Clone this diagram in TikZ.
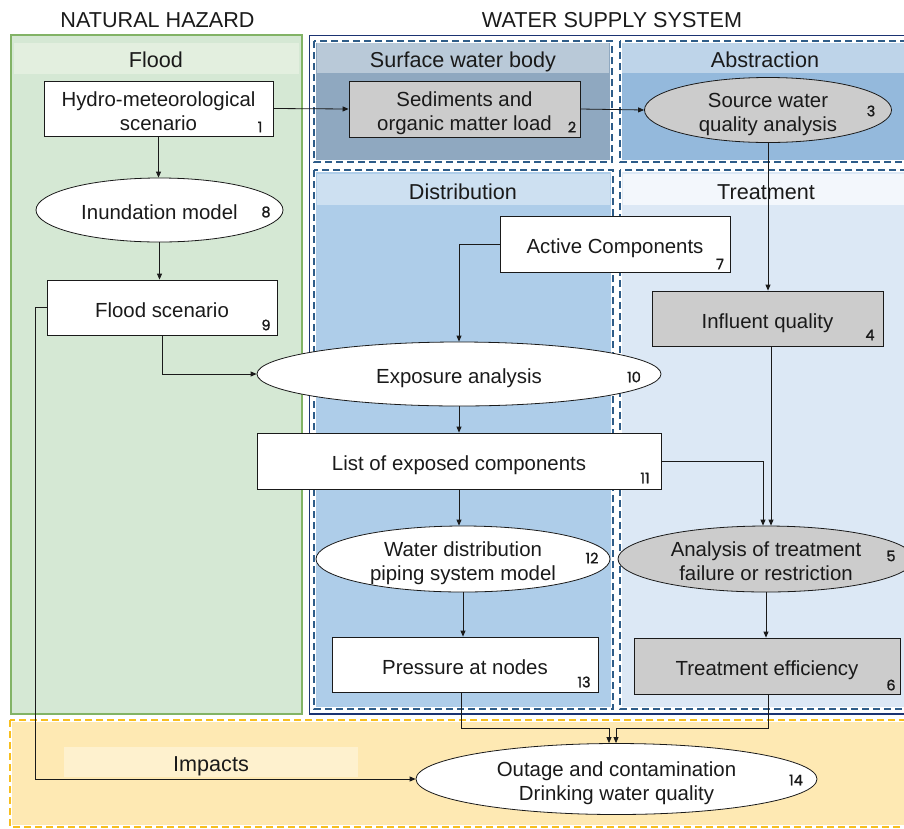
\documentclass[tikz,border=0pt]{standalone}
\usepackage{fontspec}
\setmainfont{Liberation Sans}
\newfontfamily\numfont{Poppins}[FakeBold=1.2]
\usetikzlibrary{shapes.geometric,arrows.meta}
\newcommand\txtsize{\fontsize{20.4}{24}\selectfont}
\newcommand\ttlsize{\fontsize{21.6}{25}\selectfont}
\definecolor{grnfill}{HTML}{D5E8D4}
\definecolor{grnline}{HTML}{82B366}
\definecolor{grnband}{HTML}{E3EFDF}
\definecolor{navy}{HTML}{1B3372}
\definecolor{dashblue}{HTML}{2E5C88}
\definecolor{surffill}{HTML}{8FA8C0}
\definecolor{surfband}{HTML}{B9C9D8}
\definecolor{absfill}{HTML}{94B9DC}
\definecolor{absband}{HTML}{BED4E9}
\definecolor{distfill}{HTML}{AECDE9}
\definecolor{distband}{HTML}{CDE0F1}
\definecolor{trtfill}{HTML}{DCE8F5}
\definecolor{trtband}{HTML}{F3F7FC}
\definecolor{impfill}{HTML}{FEE9B3}
\definecolor{impline}{HTML}{F7BE1E}
\definecolor{impband}{HTML}{FEF1CE}
\definecolor{nodegray}{HTML}{CCCCCC}
\definecolor{ink}{HTML}{1A1A1A}
\tikzset{
  rectbox/.style={draw=ink, line width=0.8pt, fill=white, inner sep=0pt, align=center, font=\txtsize, text=ink, text height=19.5pt, text depth=0pt},
  ellbox/.style={ellipse, draw=ink, line width=0.8pt, fill=white, inner sep=0pt, align=center, font=\txtsize, text=ink, text height=19.5pt, text depth=0pt},
  twoline/.style={text height=43.5pt, text depth=0pt},
  graybox/.style={fill=nodegray},
  num/.style={font=\numfont\fontsize{14.5}{14.5}\selectfont, inner sep=0pt, text=ink},
  ttl/.style={font=\ttlsize, text=ink, inner sep=0pt, anchor=base},
  conn/.style={draw=ink, line width=0.8pt, -{Triangle[length=6pt,width=5pt]}},
  halo/.style={draw=white, line width=3.5pt},
  bluedash/.style={draw=dashblue, line width=1.5pt, dash pattern=on 7pt off 4pt},
  yeldash/.style={draw=impline, line width=1.5pt, dash pattern=on 7pt off 4pt},
}
\begin{document}
\begin{tikzpicture}[x=1pt,y=-1pt]
\useasboundingbox (0,0) rectangle (904,828);
\clip (0,0) rectangle (904,828);
\fill[white] (0,0) rectangle (904,828);

% headers
\node[ttl] (hzd) at (157.5,27) {NATURAL HAZARD};
\node[ttl] (wss) at (612,27) {WATER SUPPLY SYSTEM};

% flood panel
\draw[grnline, fill=grnfill, line width=1.5pt] (11,35) rectangle (302,714);
\fill[grnband] (14,43) rectangle (299,74);
\node[ttl] (tflood) at (156,67) {Flood};

% water supply outer
\draw[navy, fill=white, line width=1.6pt] (309.5,35.5) rectangle (910,714);

% surface water body
\fill[surffill] (314,41) rectangle (612,162);
\fill[surfband] (317,43) rectangle (609,73);
\draw[halo] (314,41) rectangle (612,162);
\draw[bluedash] (314,41) rectangle (612,162);
\node[ttl] (tsurf) at (463,67) {Surface water body};

% abstraction
\fill[absfill] (620,41) rectangle (912,162);
\fill[absband] (622,43) rectangle (912,73);
\draw[halo] (620,41) rectangle (912,162);
\draw[bluedash] (620,41) rectangle (912,162);
\node[ttl] (tabs) at (765,67) {Abstraction};

% distribution
\fill[distfill] (314,170) rectangle (613,709);
\fill[distband] (317,174) rectangle (610,205);
\draw[halo] (314,170) rectangle (613,709);
\draw[bluedash] (314,170) rectangle (613,709);
\node[ttl] (tdist) at (463,199) {Distribution};

% treatment
\fill[trtfill] (620,170) rectangle (912,709);
\fill[trtband] (623,174) rectangle (912,205);
\draw[halo] (620,170) rectangle (912,709);
\draw[bluedash] (620,170) rectangle (912,709);
\node[ttl] (ttrt) at (766,199) {Treatment};

% impacts
\fill[impfill] (10,720) rectangle (912,827);
\draw[halo] (10,720) rectangle (912,827);
\draw[yeldash] (10,720) rectangle (912,827);
\fill[impband] (64,747) rectangle (358,777);
\node[ttl] (timp) at (211,771) {Impacts};

% nodes
\node[rectbox, twoline, minimum width=229pt, minimum height=55pt] (n1) at (158.5,108.5) {Hydro-meteorological\\scenario};
\node[rectbox, twoline, graybox, minimum width=231pt, minimum height=56pt] (n2) at (464.5,109) {Sediments and\\organic matter load};
\node[ellbox, twoline, graybox, minimum width=247pt, minimum height=65pt] (n3) at (768,110) {Source water\\quality analysis};
\node[ellbox, minimum width=247pt, minimum height=64pt] (n8) at (159.5,210) {Inundation model};
\node[rectbox, minimum width=230pt, minimum height=55pt] (n9) at (162,307.5) {Flood scenario};
\node[rectbox, minimum width=230pt, minimum height=56pt] (n7) at (615,244) {Active Components};
\node[rectbox, graybox, minimum width=231pt, minimum height=55pt] (n4) at (767.5,318.5) {Influent quality};
\node[ellbox, minimum width=404pt, minimum height=64pt] (n10) at (459,374) {Exposure analysis};
\node[rectbox, minimum width=404pt, minimum height=56pt] (n11) at (459,461) {List of exposed components};
\node[ellbox, twoline, minimum width=294pt, minimum height=66pt] (n12) at (463,559) {Water distribution\\piping system model};
\node[ellbox, twoline, graybox, minimum width=296pt, minimum height=66pt] (n5) at (766,559) {Analysis of treatment\\failure or restriction};
\node[rectbox, minimum width=266pt, minimum height=55pt] (n13) at (465,664.5) {Pressure at nodes};
\node[rectbox, graybox, minimum width=266pt, minimum height=56pt] (n6) at (767,666) {Treatment efficiency};
\node[ellbox, twoline, minimum width=401pt, minimum height=71pt] (n14) at (616.5,779) {Outage and contamination\\Drinking water quality};

% numbers
\node[num] (k1) at (260,127) {1};
\node[num] (k2) at (572,127) {2};
\node[num] (k3) at (871,111) {3};
\node[num] (k8) at (266,212) {8};
\node[num] (k9) at (266,325) {9};
\node[num] (k7) at (720,264) {7};
\node[num] (k4) at (870,335) {4};
\node[num] (k10) at (634,377) {10};
\node[num] (k11) at (645,478) {11};
\node[num] (k12) at (592,558) {12};
\node[num] (k5) at (891,556) {5};
\node[num] (k13) at (584,682) {13};
\node[num] (k6) at (891,685) {6};
\node[num] (k14) at (796,780) {14};

% connectors
\draw[conn] (n1.east) -- (n2.west);
\draw[conn] (n2.east) -- (n3.west);
\draw[conn] (n1.south) -- (n1.south |- n8.north);
\draw[conn] (n8.south) -- (n8.south |- n9.north);
\draw[conn] (n9.south) |- (n10.west);
\draw[conn] (n9.west) -- ++(-11,0) |- (n14.west);
\draw[conn] (n7.west) -| (n10.north);
\draw[conn] (n3.south) -- (n3.south |- n4.north);
\draw[conn] (n10.south) -- (n11.north);
\draw[conn] (n11.south) -- (n11.south |- n12.north);
\draw[conn] (n11.east) -| ([xshift=-3pt]n5.north);
\draw[conn] ([xshift=3.5pt]n4.south) -- ([xshift=5pt]n5.north);
\draw[conn] (n5.south) -- (n5.south |- n6.north);
\draw[conn] (n12.south) -- (n12.south |- n13.north);
\draw[conn] ([xshift=-4pt]n13.south) -- ++(0,36) -| ([xshift=-7.5pt]n14.north);
\draw[conn] ([xshift=1pt]n6.south) -- ++(0,34) -| ([xshift=-0.5pt]n14.north);
\end{tikzpicture}
\end{document}
